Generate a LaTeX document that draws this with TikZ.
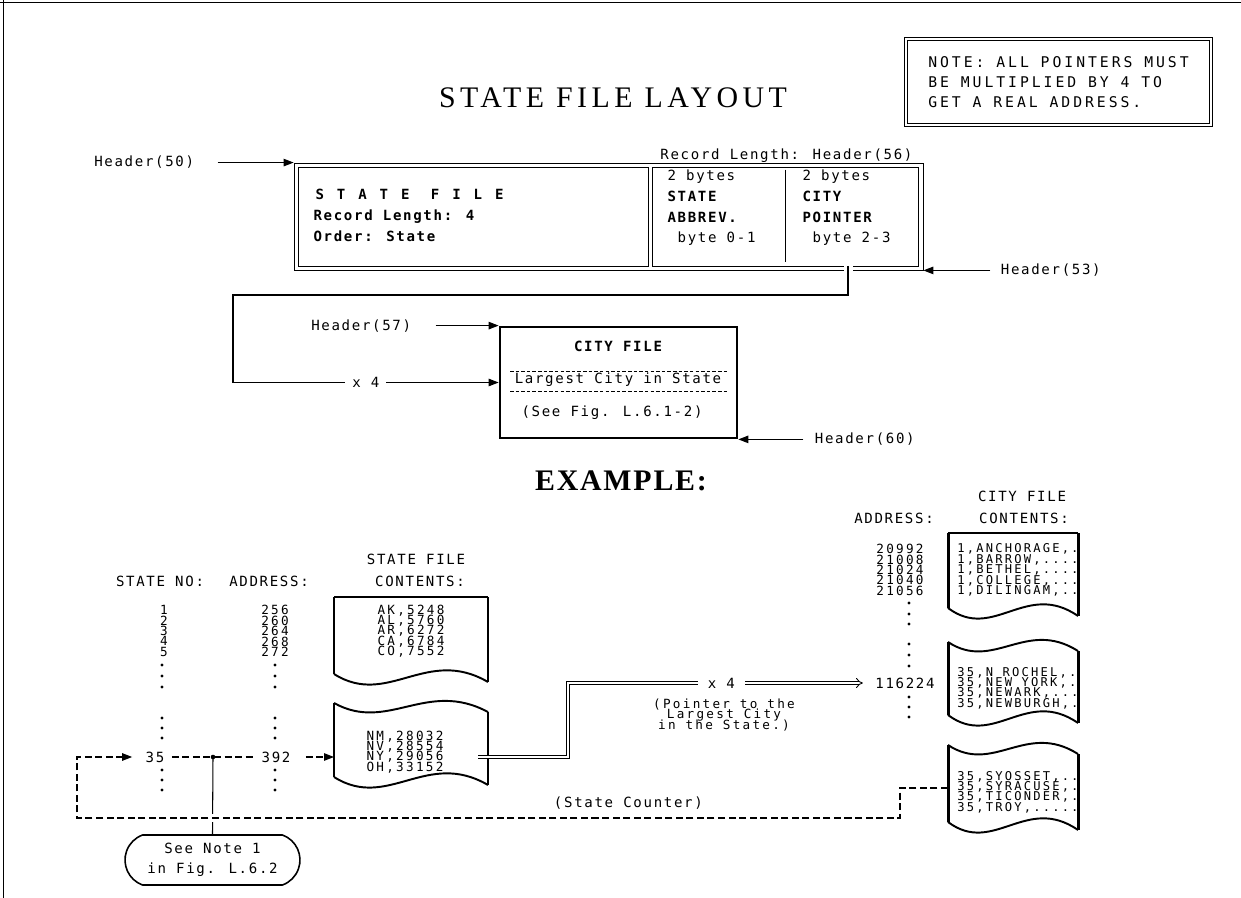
\documentclass[tikz,border=0pt]{standalone}
\usepackage{fontspec}
\setmainfont{Liberation Serif}
\newfontfamily\plotfont[LetterSpace=12]{DejaVu Sans Mono}
\newfontfamily\stackfont[LetterSpace=18]{DejaVu Sans Mono}
\newfontfamily\notefont[LetterSpace=20]{DejaVu Sans Mono}
\newfontfamily\plotwidefont[LetterSpace=92]{DejaVu Sans Mono}
\newfontfamily\titlefont[LetterSpace=15]{Liberation Serif}
\newfontfamily\examplefont[LetterSpace=6]{Liberation Serif}
\newcommand\tightstack{\lineskiplimit=-20pt\relax}
\usetikzlibrary{
    arrows.meta,
    positioning,
    calc,
    shapes.misc
}

\tikzset{
    pics/flatdoc/.style 2 args={
        code={
            \draw[line width=1.1pt] (0,0) -- (#1,0);
            \draw[line width=1.7pt] (0,0) -- (0,#2) (#1,0) -- (#1,#2+8);
            \draw[line width=1.1pt] (0,#2) .. controls (0.35*#1,#2+34) and (0.6*#1,#2-28) .. (#1,#2+8);
        }
    },
    pics/wavydoc/.style 2 args={
        code={
            \draw[line width=1.1pt] (0,0) .. controls (0.35*#1,30) and (0.6*#1,-24) .. (#1,9);
            \draw[line width=1.7pt] (0,0) -- (0,#2) (#1,9) -- (#1,#2+8);
            \draw[line width=1.1pt] (0,#2) .. controls (0.35*#1,#2+34) and (0.6*#1,#2-28) .. (#1,#2+8);
        }
    }
}

\begin{document}
\begin{tikzpicture}[
    x=0.02cm,
    y=-0.02cm,
    semithick,
    every node/.style={inner sep=0pt},
    plottext/.style={font=\plotfont\fontsize{8}{11.9}\selectfont},
    plotbold/.style={font=\plotfont\bfseries\fontsize{8}{11.9}\selectfont},
    stacktext/.style={
        font=\stackfont\fontsize{7.2}{5.9}\selectfont\tightstack,
        align=center
    },
    citystack/.style={
        font=\stackfont\fontsize{6.9}{5.9}\selectfont\tightstack,
        align=left
    },
    notebox/.style={
        draw,
        double,
        double distance=1.6pt,
        line width=0.5pt,
        minimum width=6.1cm,
        minimum height=1.72cm,
        align=left,
        font=\notefont\fontsize{8.4}{11.4}\selectfont
    },
    sfframe/.style={
        draw,
        line width=0.5pt
    },
    citybox/.style={
        draw,
        line width=1.6pt,
        minimum width=4.74cm,
        minimum height=2.22cm
    },
    notecap/.style={
        rounded rectangle,
        rounded rectangle arc length=140,
        draw,
        line width=0.9pt,
        minimum width=3.5cm,
        minimum height=1.0cm,
        align=center,
        font=\plotfont\fontsize{8}{11.4}\selectfont
    },
    arrow/.style={
        -{Triangle[length=2mm,width=1.5mm]},
        semithick
    },
    ptrline/.style={
        double,
        double distance=1.5pt,
        line width=0.5pt
    },
    counterline/.style={
        dash pattern=on 4pt off 2pt
    },
    finedash/.style={
        dash pattern=on 2pt off 1.2pt,
        line width=0.5pt
    }
]

\useasboundingbox (0,0) rectangle (1241,898);

% =====================================================
% Frame, title and note
% =====================================================

\draw[line width=0.5pt] (0,2) -- (1241,2);
\draw[line width=0.5pt] (3,0) -- (3,898);

\node[font=\titlefont\fontsize{17}{20}\selectfont] (title) at (613,98)
{STATE FILE LAYOUT};

\node[notebox] (note) at (1058.5,82)
{NOTE: ALL POINTERS MUST\\BE MULTIPLIED BY 4 TO\\GET A REAL ADDRESS.};

% =====================================================
% State file record
% =====================================================

\node[sfframe, minimum width=12.58cm, minimum height=2.14cm] (sfbox) at (608.5,216.5) {};
\node[sfframe, minimum width=7.0cm, minimum height=1.98cm, anchor=north west] (sfmain)
    at ($(sfbox.north west)+(4,4)$) {};
\node[sfframe, minimum width=5.32cm, minimum height=1.98cm, anchor=north east] (sffields)
    at ($(sfbox.north east)+(-5,4)$) {};
\draw[line width=0.5pt] ([yshift=-0.06cm]sffields.north) -- ([yshift=0.08cm]sffields.south);

\node[font=\plotwidefont\bfseries\fontsize{8}{9}\selectfont, anchor=base west] (sftitle) at (315,200)
{STATE FILE};
\node[plotbold, anchor=base west] (sflength) at (313,221) {Record Length: 4};
\node[plotbold, anchor=base west] (sforder) at (313,242) {Order: State};

\node[plottext, align=left, anchor=north west] (abbrevcol) at (667,169)
{2 bytes\\\textbf{STATE}\\\textbf{ABBREV.}\\~byte 0-1};
\node[plottext, align=left, anchor=north west] (ptrcol) at (802,169)
{2 bytes\\\textbf{CITY}\\\textbf{POINTER}\\~byte 2-3};

\node[plottext, anchor=base east] (reclen) at (913,160) {Record Length: Header(56)};

\node[plottext, left=1.98cm of sfbox.north west] (h50) {Header(50)};
\node[plottext, right=1.54cm of sfbox.south east] (h53) {Header(53)};

\draw[arrow] ([xshift=0.46cm]h50.east) -- (sfbox.north west);
\draw[arrow] ([xshift=-0.2cm]h53.west) -- (sfbox.south east);

% =====================================================
% City file
% =====================================================

\node[citybox] (cityfile) at (618.5,382.5) {};
\node[plotbold] (cftitle) at (618,346) {CITY FILE};
\draw[finedash] (510,371) -- (727,371);
\node[plottext] (cflargest) at (618,380) {Largest City in State};
\draw[finedash] (510,391) -- (727,391);
\node[plottext] (cfsee) at (612,413) {(See Fig. L.6.1-2)};

\node[plottext, left=1.74cm of cityfile.north west] (h57) {Header(57)};
\node[plottext, right=1.52cm of cityfile.south east] (h60) {Header(60)};

\draw[arrow] ([xshift=0.48cm]h57.east) -- (cityfile.north west);
\draw[arrow] ([xshift=-0.22cm]h60.west) -- (cityfile.south east);

% pointer leaves the CITY POINTER field
\coordinate (ptrout) at (848,266);
\coordinate (loopcorner) at (233,295);
\fill[white] (844,264) rectangle (853,272);
\draw[arrow] (ptrout) |- (loopcorner)
    |- node[pos=0.75, fill=white, inner xsep=0.14cm, plottext] {x 4} (cityfile.west);

% =====================================================
% Example
% =====================================================

\node[font=\examplefont\bfseries\fontsize{17}{20}\selectfont] (example) at (621,481) {EXAMPLE:};

\node[plottext] (statehdr) at (416,559) {STATE FILE};
\node[plottext] (statecont) at (420,581) {CONTENTS:};
\node[plottext] (stateno) at (160,581) {STATE NO:};
\node[plottext] (addrhdr) at (269,581) {ADDRESS:};

\node[plottext] (cityhdr) at (1022,496) {CITY FILE};
\node[plottext] (citycont) at (1024,518) {CONTENTS:};
\node[plottext] (cityaddr) at (894,518) {ADDRESS:};

\node[stacktext] (statenums) at (164,631) {1\\2\\3\\4\\5};
\node[stacktext] (addrs) at (275,631) {256\\260\\264\\268\\272};
\node[stacktext] (caddrs) at (900,570) {20992\\21008\\21024\\21040\\21056};

\foreach \y in {665,676,687,718,728,738,770,780,790} {
    \fill (162,\y) circle (0.9pt);
    \fill (275,\y) circle (0.9pt);
}
\foreach \y in {603,614,624,644,655,666,697,707,717}
    \fill (909,\y) circle (0.9pt);

\node[plottext] (n35) at (155,757) {35};
\node[plottext] (a392) at (276,757) {392};
\node[plottext] (a116224) at (905,683) {116224};

% state counter loop
\coordinate (junction) at (213,757);
\coordinate (sdoc2in) at (334,757);
\coordinate (sdoc2out) at (478,757);
\coordinate (cdoc3in) at (948,788);
\coordinate (loopleft) at (77,818);

\node[notecap] (seenote) at (212.5,860) {See Note 1\\in Fig. L.6.2};
\draw (junction) -- (seenote.north);

\draw[counterline, arrow, preaction={draw=white, line width=5pt, solid}] (cdoc3in) -- ++(-48,0)
    |- node[pos=0.665, above=0.16cm, plottext] {(State Counter)} (loopleft)
    |- ([xshift=-0.26cm]n35.west);
\draw[counterline] ([xshift=0.14cm]n35.east) -- ([xshift=-0.16cm]a392.west);
\fill (junction) circle (1.3pt);
\draw[counterline, arrow] ([xshift=0.3cm]a392.east) -- (sdoc2in);

% =====================================================
% File contents
% =====================================================

\pic at (334,597) {flatdoc={154}{77}};
\pic at (334,703) {wavydoc={154}{74}};
\pic at (948,533) {flatdoc={130}{75}};
\pic at (948,642) {wavydoc={130}{73}};
\pic at (948,745) {wavydoc={130}{77}};

\node[stacktext, align=left] (sdoc1txt) at (411,631)
{AK,5248\\AL,5760\\AR,6272\\CA,6784\\CO,7552};
\node[stacktext, align=left] (sdoc2txt) at (405,752)
{NM,28032\\NV,28554\\NY,29056\\OH,33152};

\node[citystack] (cdoc1txt) at (1018,570)
{1,ANCHORAGE,.\\1,BARROW,....\\1,BETHEL,....\\1,COLLEGE,...\\1,DILINGAM,..};
\node[citystack] (cdoc2txt) at (1018,688)
{35,N ROCHEL,.\\35,NEW YORK,.\\35,NEWARK,...\\35,NEWBURGH,.};
\node[citystack] (cdoc3txt) at (1018,792)
{35,SYOSSET,..\\35,SYRACUSE,.\\35,TICONDER,.\\35,TROY,.....};

% pointer to the largest city
\draw[ptrline, -{Implies}] (sdoc2out) -- ++(90,0)
    |- node[pos=0.76, fill=white, inner xsep=0.2cm, inner ysep=2pt, plottext] {x 4}
    ([xshift=-0.24cm]a116224.west);

\node[stacktext] (ptrnote) at (724,715)
{(Pointer to the\\Largest City\\in the State.)};

\end{tikzpicture}
\end{document}
